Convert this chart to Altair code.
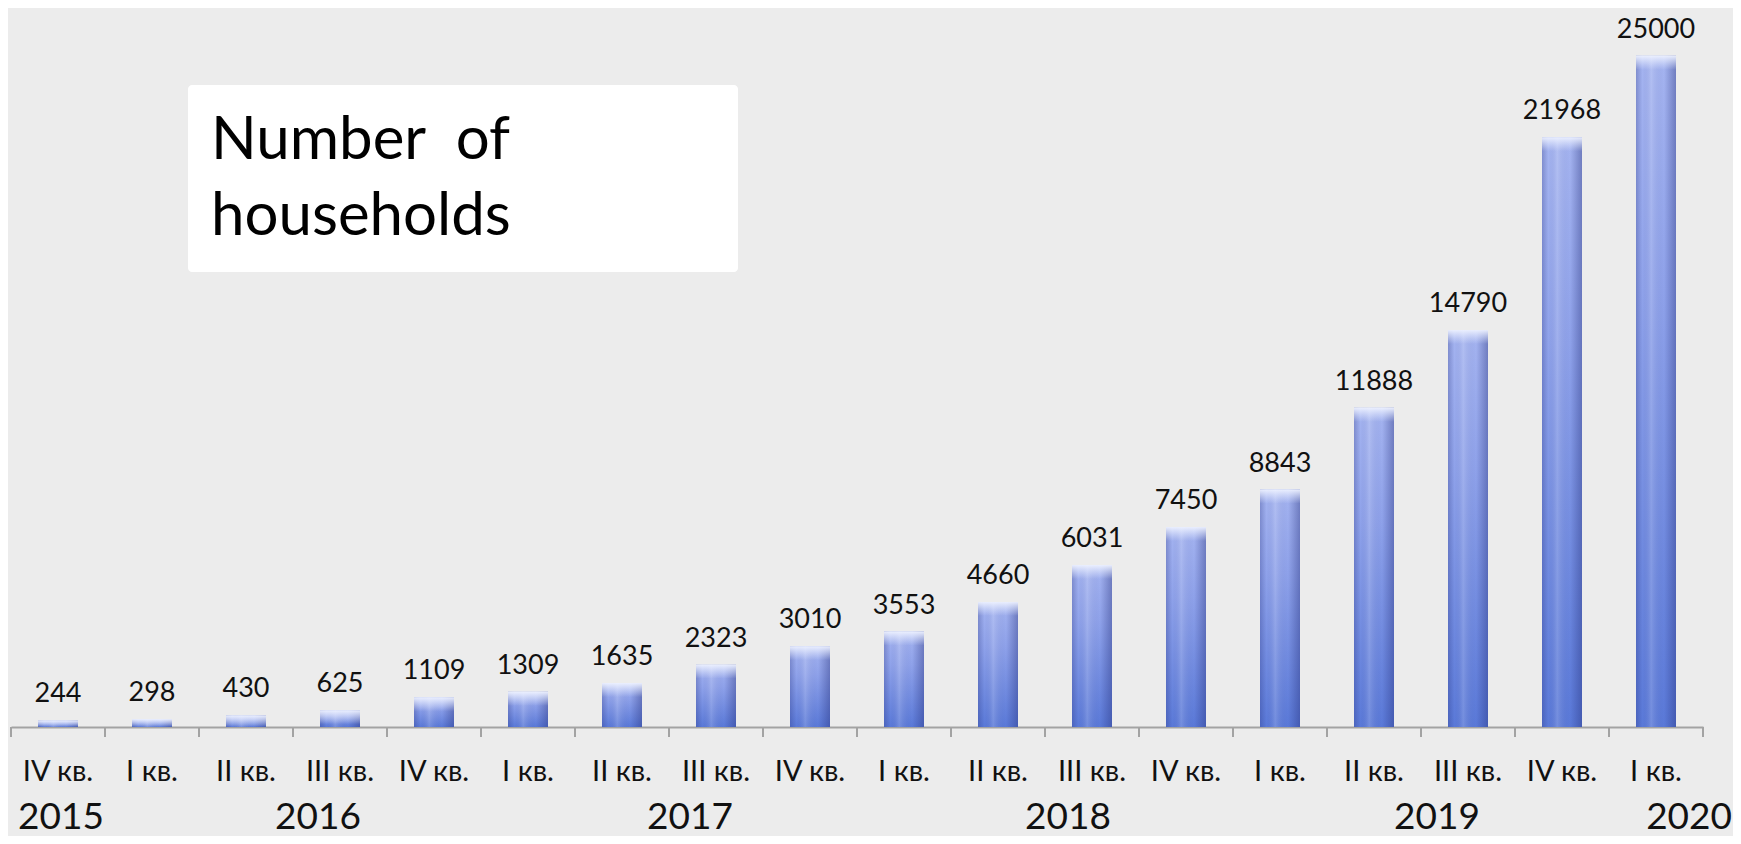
import altair as alt
import pandas as pd

years = [2015, 2016, 2016, 2016, 2016, 2017, 2017, 2017, 2017,
         2018, 2018, 2018, 2018, 2019, 2019, 2019, 2019, 2020]
quarters = ["IV кв.", "I кв.", "II кв.", "III кв.", "IV кв.", "I кв.", "II кв.", "III кв.", "IV кв.",
            "I кв.", "II кв.", "III кв.", "IV кв.", "I кв.", "II кв.", "III кв.", "IV кв.", "I кв."]
values = [244, 298, 430, 625, 1109, 1309, 1635, 2323, 3010, 3553,
          4660, 6031, 7450, 8843, 11888, 14790, 21968, 25000]
year_labels = ["2015", "2016", "2017", "2018", "2019", "2020"]
title_lines = ["Number\u00a0 of", "households"]

cats = [f"{y}|{q}|{i}" for i, (y, q) in enumerate(zip(years, quarters))]
df = pd.DataFrame({"cat": cats, "year": years, "quarter": quarters, "value": values})

PLOT_W = 1692
PLOT_H = 698
FONT = "Lato"

xscale = alt.Scale(domain=cats, paddingInner=0, paddingOuter=0)
yscale = alt.Scale(domain=[0, 26000])

xenc = alt.X("cat:N", scale=xscale, sort=cats,
             axis=alt.Axis(title=None, labelExpr="split(datum.value, '|')[1]",
                           labelAngle=0, labelFont=FONT, labelFontSize=29,
                           labelColor="#111111", labelOverlap=False,
                           labelBaseline="alphabetic", labelPadding=53,
                           ticks=False, tickSize=0, domainColor="#a3a3a3",
                           domainWidth=2, grid=False))
yenc = alt.Y("value:Q", scale=yscale, axis=None)

base = alt.Chart(df)

body_grad = alt.Gradient(
    gradient="linear", x1=0, y1=0, x2=0, y2=1,
    stops=[alt.GradientStop(color="#a5b4f0", offset=0),
           alt.GradientStop(color="#8fa2ea", offset=0.35),
           alt.GradientStop(color="#5a79d8", offset=1)])
side_grad = alt.Gradient(
    gradient="linear", x1=0, y1=0, x2=1, y2=0,
    stops=[alt.GradientStop(color="rgba(35,45,120,0.28)", offset=0),
           alt.GradientStop(color="rgba(35,45,120,0.0)", offset=0.16),
           alt.GradientStop(color="rgba(255,255,255,0.16)", offset=0.38),
           alt.GradientStop(color="rgba(35,45,120,0.0)", offset=0.70),
           alt.GradientStop(color="rgba(35,45,120,0.40)", offset=1)])
top_grad = alt.Gradient(
    gradient="linear", x1=0, y1=0, x2=0, y2=1,
    stops=[alt.GradientStop(color="rgba(238,242,255,0.95)", offset=0),
           alt.GradientStop(color="rgba(225,232,255,0.0)", offset=1)])

bars = base.mark_bar(width=40, color=body_grad).encode(x=xenc, y=yenc, y2=alt.datum(0))
shade = base.mark_bar(width=40, color=side_grad).encode(x=xenc, y=yenc, y2=alt.datum(0))
bevel = base.transform_calculate(top2="max(0, datum.value - 520)").mark_bar(
    width=40, color=top_grad).encode(x=xenc, y=yenc, y2="top2:Q")

labels = base.mark_text(font=FONT, fontSize=27, color="#111111",
                        baseline="alphabetic", dy=-18).encode(
    x=xenc, y=yenc, text=alt.Text("value:Q", format="d"))

ticks_start = base.mark_rule(color="#a3a3a3", strokeWidth=2).encode(
    x=alt.X("cat:N", scale=xscale, sort=cats, bandPosition=0),
    y=alt.value(PLOT_H), y2=alt.value(PLOT_H + 10))
ticks_end = alt.Chart(df.tail(1)).mark_rule(color="#a3a3a3", strokeWidth=2).encode(
    x=alt.X("cat:N", scale=xscale, sort=cats, bandPosition=1),
    y=alt.value(PLOT_H), y2=alt.value(PLOT_H + 10))

# year labels anchored to quarter categories
year_anchor = {"2015": 0, "2016": 3, "2017": 7, "2018": 11, "2019": 15, "2020": 17}
year_dx = {"2015": 3, "2016": -22, "2017": -26, "2018": -24, "2019": -31, "2020": 29}
year_layers = []
for yl in year_labels:
    idx = year_anchor[yl]
    ydf = pd.DataFrame({"cat": [cats[idx]], "label": [yl]})
    if yl == "2020":
        mk = alt.Chart(ydf).mark_text(font=FONT, fontSize=37, color="#111111",
                                      align="right", baseline="alphabetic",
                                      dx=year_dx[yl])
        xe = alt.X("cat:N", scale=xscale, sort=cats, bandPosition=1)
    else:
        mk = alt.Chart(ydf).mark_text(font=FONT, fontSize=37, color="#111111",
                                      align="center", baseline="alphabetic",
                                      dx=year_dx[yl])
        xe = alt.X("cat:N", scale=xscale, sort=cats)
    year_layers.append(mk.encode(x=xe, y=alt.value(PLOT_H + 102), text="label:N"))

box = alt.Chart(pd.DataFrame({"a": [0]})).mark_rect(color="white", cornerRadius=4).encode(
    x=alt.value(177), x2=alt.value(727), y=alt.value(56), y2=alt.value(243))
title_layers = []
for i, line in enumerate(title_lines):
    title_layers.append(
        alt.Chart(pd.DataFrame({"t": [line]})).mark_text(
            font=FONT, fontSize=60, color="#000000", align="left",
            baseline="alphabetic").encode(
            x=alt.value(200), y=alt.value(130 + 76 * i), text="t:N"))

chart = alt.layer(bars, shade, bevel, labels, ticks_start, ticks_end,
                  *year_layers, box, *title_layers).properties(
    width=PLOT_W, height=PLOT_H,
    padding={"left": 3, "top": 21, "right": 30, "bottom": 109},
    autosize=alt.AutoSizeParams(type="none"),
    background="#ececec",
).configure_view(stroke=None)

chart.save("out.html", embed_options={"renderer": "svg", "actions": False})
